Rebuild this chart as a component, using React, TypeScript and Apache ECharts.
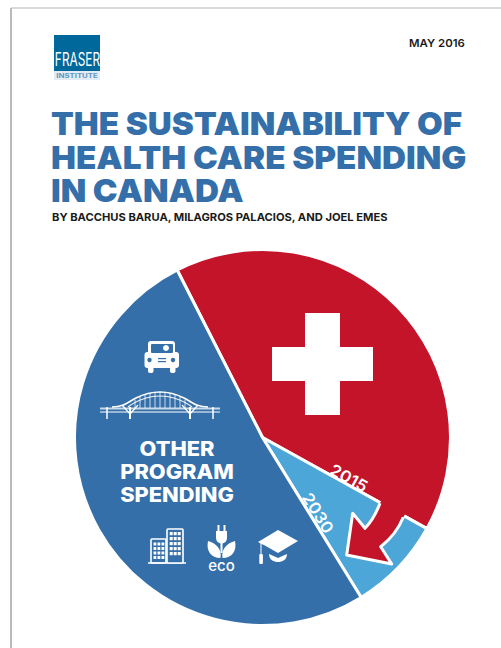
import React, { useEffect, useRef } from "react";
import * as echarts from "echarts";

// Data
const sliceNames = ["Health care spending 2015", "Growth in health care spending to 2030", "Other program spending"];
const sliceValues = [40.55, 8.15, 51.3];
const titleLines = ["THE SUSTAINABILITY OF", "HEALTH CARE SPENDING", "IN CANADA"];
const byline = "BY BACCHUS BARUA, MILAGROS PALACIOS, AND JOEL EMES";
const dateLabel = "MAY 2016";
const otherLines = ["OTHER", "PROGRAM", "SPENDING"];
const yearLabels = ["2015", "2030"];

// Styles
const RED = "#c31429";
const BLUE = "#356fa9";
const LIGHT = "#4ca6d8";
const WHITE = "#ffffff";
const FONT = "Inter, 'Noto Sans', sans-serif";

echarts.graphic.registerShape(
  "arrowFill",
  echarts.graphic.extendPath(
    "M380 503.3 Q374 519 365 528.3 L352.7 513.3 L346.7 555 L391.7 564 L380.7 546.7 Q396 535 403.3 517.3 L405.5 513.5 L382 499.5 Z",
    {}
  )
);
echarts.graphic.registerShape(
  "arrowLine",
  echarts.graphic.extendPath(
    "M380 503.3 Q374 519 365 528.3 L352.7 513.3 L346.7 555 L391.7 564 L380.7 546.7 Q396 535 403.3 517.3",
    {}
  )
);
echarts.graphic.registerShape(
  "leafL",
  echarts.graphic.extendPath("M220.5 558 C211 558 206 551 208 541 C216 543 222 549 220.5 558 Z", {})
);
echarts.graphic.registerShape(
  "leafR",
  echarts.graphic.extendPath("M222.5 558 C232 558 237 551 235 541 C227 543 221 549 222.5 558 Z", {})
);
echarts.graphic.registerShape(
  "plug",
  echarts.graphic.extendPath("M216 531 L227 531 L227 538 C227 541 225 543 222.5 543.5 L222.5 553 L220.5 553 L220.5 543.5 C218 543 216 541 216 538 Z", {})
);
echarts.graphic.registerShape(
  "capTop",
  echarts.graphic.extendPath("M278 530 L298 541 L278 553 L264 545 L261.5 544 L258 542 Z", {})
);
echarts.graphic.registerShape(
  "capUnder",
  echarts.graphic.extendPath("M269 554 L278 558 L287 554 C287 560 282 562 278 562 C274 562 269 560 269 554 Z", {})
);
echarts.graphic.registerShape(
  "arch",
  echarts.graphic.extendPath("M112 407 C124 407 128 402 136 398 C146 393 152 392 160 392 C168 392 174 393 184 398 C192 402 196 407 208 407", {})
);
echarts.graphic.registerShape(
  "archIn",
  echarts.graphic.extendPath("M128 407 C134 402 140 400 146 398 C152 396 156 396 160 396 C164 396 168 396 174 398 C180 400 186 402 192 407", {})
);

function text(t: string, x: number, y: number, size: number, weight: number, fill: string, extra: any = {}) {
  const { align = "left", ...rest } = extra;
  return {
    type: "text",
    x,
    y,
    z: 20,
    ...rest,
    style: { text: t, fill, font: `${weight} ${size}px ${FONT}`, textAlign: align, textVerticalAlign: "middle" },
  };
}
const rect = (x: number, y: number, w: number, h: number, fill: string, z = 20) => ({
  type: "rect",
  z,
  shape: { x, y, width: w, height: h },
  style: { fill },
});
const circle = (cx: number, cy: number, r: number, fill: string, z = 20) => ({
  type: "circle",
  z,
  shape: { cx, cy, r },
  style: { fill },
});
const seg = (x1: number, y1: number, x2: number, y2: number, w: number, stroke = WHITE, opacity = 1) => ({
  type: "line",
  z: 20,
  shape: { x1, y1, x2, y2 },
  style: { stroke, lineWidth: w, opacity },
});
const custom = (type: string, style: any, z = 20) => ({ type, x: 0, y: 0, z, style });

function buildGraphics(): any[] {
  const out: any[] = [];
  // page border
  out.push(seg(11, 8, 501, 8, 1.2, "#b4b8b8"));
  out.push(seg(11, 8, 11, 648, 1.6, "#a6aaaa"));

  // logo
  out.push(rect(54, 35, 46, 36, "#00689a"));
  out.push(rect(54, 71, 46, 9, "#e3ebf3"));
  out.push(text("FRASER", 77.5, 60, 18, 400, WHITE, { align: "center", scaleX: 0.66 }));
  out.push(text("INSTITUTE", 77, 76, 6, 700, "#5f97bd", { align: "center", scaleX: 1.3 }));

  // header text
  out.push(text(dateLabel, 409, 43.5, 11, 600, "#1a1a1a", { scaleX: 1.04 }));
  const titleY = [123.5, 157, 190.5];
  titleLines.forEach((l, i) => out.push(text(l, 51, titleY[i], 32, 900, BLUE, { scaleX: 1.038 })));
  out.push(text(byline, 52, 217.5, 11, 700, "#1a1a1a", { scaleX: 1.015 }));

  // cross
  out.push(rect(305, 313, 35, 102, WHITE));
  out.push(rect(272, 347, 101, 34, WHITE));

  // arrow
  out.push(custom("arrowFill", { fill: RED }, 15));
  out.push(custom("arrowLine", { fill: "none", stroke: WHITE, lineWidth: 3, lineJoin: "round" }, 16));
  out.push(text(yearLabels[0], 349, 478, 16, 600, WHITE, { align: "center", scaleX: 1.08, rotation: (-29 * Math.PI) / 180 }));
  out.push(text(yearLabels[1], 318, 513, 16, 600, WHITE, { align: "center", scaleX: 1.08, rotation: (-58 * Math.PI) / 180 }));

  // other program spending
  const oy = [449, 472, 495];
  otherLines.forEach((l, i) => out.push(text(l, 177, oy[i], 20, 800, WHITE, { align: "center", scaleX: 1.09 })));

  // car
  out.push({ type: "rect", z: 20, shape: { x: 148, y: 341, width: 27, height: 16, r: 3 }, style: { fill: WHITE } });
  out.push({ type: "rect", z: 20, shape: { x: 144.5, y: 352, width: 34.5, height: 16, r: 3 }, style: { fill: WHITE } });
  out.push({ type: "rect", z: 20, shape: { x: 148, y: 365, width: 5.5, height: 8, r: 2 }, style: { fill: WHITE } });
  out.push({ type: "rect", z: 20, shape: { x: 170, y: 365, width: 5.5, height: 8, r: 2 }, style: { fill: WHITE } });
  out.push({ type: "rect", z: 21, shape: { x: 151, y: 344, width: 22, height: 9, r: 1 }, style: { fill: BLUE } });
  out.push(circle(166, 348, 3, WHITE, 22));
  out.push(circle(149.5, 360, 2.2, BLUE, 22));
  out.push(circle(173, 360, 2.2, BLUE, 22));
  out.push(rect(158, 358, 8, 1.2, BLUE, 22));
  out.push(rect(158, 361, 8, 1.2, BLUE, 22));

  // bridge
  out.push(seg(100, 408.5, 220, 408.5, 2, "#c9d9e9"));
  out.push(seg(100, 412, 220, 412, 1, WHITE));
  [107, 130, 190, 213].forEach((x) => out.push(seg(x, 407, x, 419, x === 130 || x === 190 ? 2 : 1.5, WHITE)));
  out.push(custom("arch", { fill: "none", stroke: WHITE, lineWidth: 1.6 }));
  out.push(custom("archIn", { fill: "none", stroke: WHITE, lineWidth: 1.2, opacity: 0.9 }));
  [135, 140, 145, 150, 155, 160, 165, 170, 175, 180, 185].forEach((x) => {
    const top = 392 + Math.abs(x - 160) * Math.abs(x - 160) * 0.012;
    out.push(seg(x, top, x, 408, 1, WHITE, 0.75));
  });
  out.push(seg(122, 405, 130, 414, 1.2));
  out.push(seg(138, 405, 130, 414, 1.2));
  out.push(seg(182, 405, 190, 414, 1.2));
  out.push(seg(198, 405, 190, 414, 1.2));

  // buildings
  out.push(seg(148, 563, 186, 563, 1.6));
  out.push({ type: "rect", z: 20, shape: { x: 151, y: 539, width: 15, height: 24, r: 1 }, style: { fill: "none", stroke: WHITE, lineWidth: 1.6 } });
  out.push({ type: "rect", z: 20, shape: { x: 167, y: 529, width: 16, height: 34, r: 1 }, style: { fill: BLUE, stroke: WHITE, lineWidth: 1.6 } });
  [154, 158, 162].forEach((x) =>
    [542.5, 547, 551.5, 556].forEach((y) => out.push(rect(x - 0.5, y, 2.8, 3, WHITE)))
  );
  [170, 174, 178].forEach((x) =>
    [532, 537, 542, 547, 552].forEach((y) => out.push(rect(x - 0.3, y, 3, 3.2, WHITE)))
  );

  // eco
  out.push(rect(217.5, 525, 2, 7, WHITE));
  out.push(rect(223.5, 525, 2, 7, WHITE));
  out.push(custom("plug", { fill: WHITE }));
  out.push(custom("leafL", { fill: WHITE }));
  out.push(custom("leafR", { fill: WHITE }));
  out.push(text("eco", 221.5, 565, 15, 500, WHITE, { align: "center" }));

  // cap
  out.push(custom("capTop", { fill: WHITE }));
  out.push(custom("capUnder", { fill: WHITE }));
  out.push(seg(261, 543, 261, 555, 1));
  out.push({ type: "rect", z: 20, shape: { x: 259.3, y: 554, width: 3.6, height: 10, r: 1 }, style: { fill: WHITE } });

  return out;
}

export default function App() {
  const ref = useRef<HTMLDivElement>(null);
  useEffect(() => {
    const chart = echarts.init(ref.current!, undefined, { renderer: "svg" });
    const colors = [RED, LIGHT, BLUE];
    chart.setOption({
      animation: false,
      backgroundColor: WHITE,
      series: [
        {
          type: "pie",
          center: [262.5, 437.5],
          radius: [0, 188],
          startAngle: 117,
          clockwise: true,
          silent: true,
          label: { show: false },
          labelLine: { show: false },
          itemStyle: { borderColor: WHITE, borderWidth: 3 },
          data: sliceNames.map((name, i) => ({
            name,
            value: sliceValues[i],
            itemStyle: { color: colors[i] },
          })),
        },
      ],
      graphic: { elements: buildGraphics() },
    });
    return () => chart.dispose();
  }, []);
  return <div ref={ref} style={{ position: "fixed", left: 0, top: 0, width: 501, height: 648 }} />;
}
